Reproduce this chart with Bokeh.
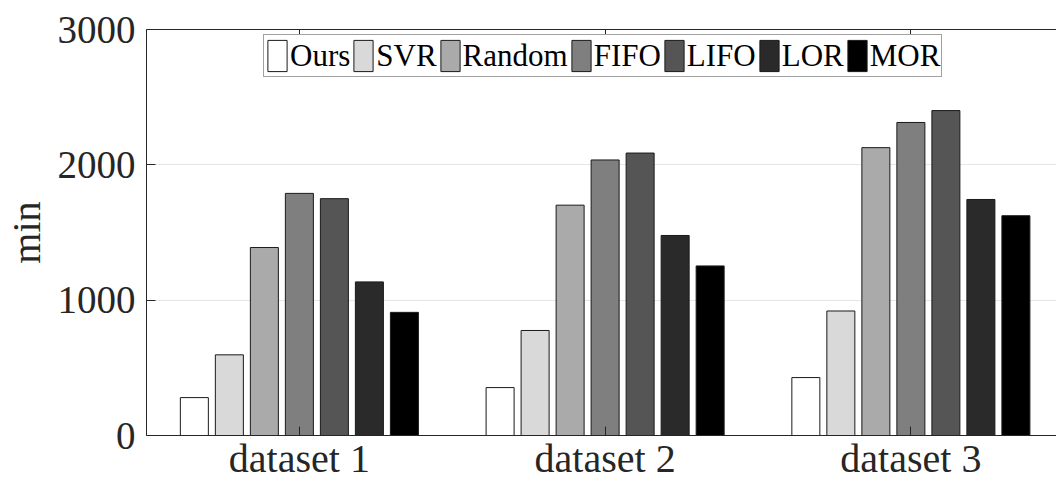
from bokeh.plotting import figure
from bokeh.models import (ColumnDataSource, LinearAxis, FixedTicker, Legend,
                          LegendItem)
from bokeh.transform import dodge
from bokeh.embed import file_html
from bokeh.resources import INLINE

# ---- data ----
datasets = ["dataset 1", "dataset 2", "dataset 3"]
methods = ["Ours", "SVR", "Random", "FIFO", "LIFO", "LOR", "MOR"]
ours = [280, 354, 428]
svr = [596, 776, 920]
random_ = [1389, 1702, 2127]
fifo = [1789, 2036, 2313]
lifo = [1750, 2087, 2401]
lor = [1135, 1478, 1744]
mor = [910, 1253, 1624]
y_ticks = [0, 1000, 2000, 3000]

series = [ours, svr, random_, fifo, lifo, lor, mor]
colors = ["#ffffff", "#d9d9d9", "#aaaaaa", "#7f7f7f", "#555555", "#2a2a2a", "#000000"]

FONT = "Liberation Serif"
TXT = "#262626"

centers = [1, 2, 3]
src = ColumnDataSource(dict(x=centers, **{m: s for m, s in zip(methods, series)}))

p = figure(width=1056, height=483, x_range=(0.5, 3.4763), y_range=(0, 3000),
           output_backend="svg", toolbar_location=None,
           min_border_left=146, min_border_right=0, min_border_top=29,
           min_border_bottom=48)
p.outline_line_color = None
p.background_fill_color = "white"

step = 0.1145
bw = 0.0916
renderers = []
for i, (m, c) in enumerate(zip(methods, colors)):
    r = p.vbar(x=dodge("x", (i - 3) * step), top=m, width=bw, source=src,
               fill_color=c, line_color="#1a1a1a", line_width=1)
    renderers.append(r)

# axes
xa = p.xaxis[0]
xa.ticker = FixedTicker(ticks=centers)
xa.major_label_overrides = {c: d for c, d in zip(centers, datasets)}
ya = p.yaxis[0]
ya.ticker = FixedTicker(ticks=y_ticks)
for ax in (xa, ya):
    ax.major_label_text_font = FONT
    ax.major_label_text_color = TXT
    ax.axis_line_color = TXT
    ax.major_tick_line_color = TXT
    ax.major_tick_in = 9
    ax.major_tick_out = 0
    ax.minor_tick_line_color = None
xa.major_label_text_font_size = "40px"
xa.major_label_standoff = 0
ya.major_label_text_font_size = "39px"
ya.major_label_standoff = 11
ya.axis_label = "min"
ya.axis_label_text_font = FONT
ya.axis_label_text_font_size = "40px"
ya.axis_label_text_font_style = "normal"
ya.axis_label_text_color = TXT
ya.axis_label_standoff = 6

top = LinearAxis(ticker=FixedTicker(ticks=centers), major_label_text_font_size="0px",
                 major_label_standoff=0, major_tick_in=9, major_tick_out=0,
                 minor_tick_line_color=None, axis_line_color=TXT,
                 major_tick_line_color=TXT)
top.major_label_overrides = {c: "" for c in centers}
p.add_layout(top, "above")

p.xgrid.visible = False
p.ygrid.ticker = FixedTicker(ticks=y_ticks)
p.ygrid.grid_line_color = "#e6e6e6"
p.ygrid.grid_line_width = 1

legend = Legend(items=[LegendItem(label=m, renderers=[r]) for m, r in zip(methods, renderers)],
                orientation="horizontal", location=(117, 358),
                glyph_width=24, glyph_height=39, label_height=39,
                label_standoff=1, spacing=1, padding=1, margin=0,
                label_text_font=FONT, label_text_font_size="31px",
                label_text_color="#000000",
                border_line_color="#444444", border_line_width=1,
                background_fill_color="white", background_fill_alpha=1.0)
p.add_layout(legend)

open("out.html", "w").write(file_html(p, INLINE))
